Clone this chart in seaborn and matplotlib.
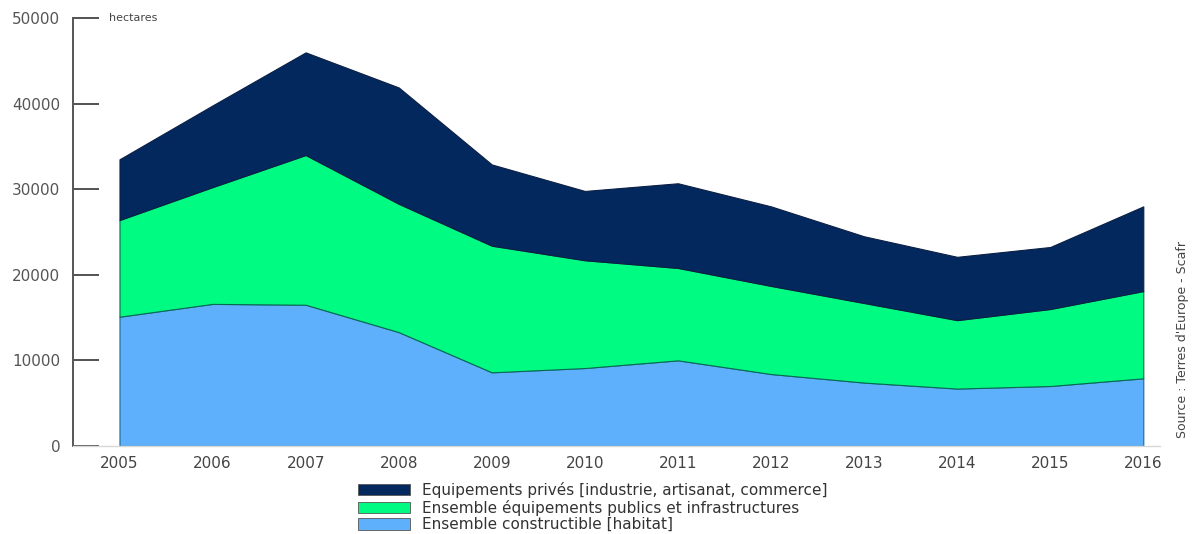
import matplotlib
matplotlib.use('Agg')
import matplotlib.pyplot as plt
from matplotlib.patches import Patch
import numpy as np
import pandas as pd
import seaborn as sns

# values (hectares)
years = [2005, 2006, 2007, 2008, 2009, 2010, 2011, 2012, 2013, 2014, 2015, 2016]
habitat = [15100, 16600, 16500, 13300, 8600, 9100, 10000, 8400, 7400, 6700, 7000, 7900]
publics = [11300, 13650, 17500, 15000, 14800, 12600, 10800, 10300, 9300, 8000, 9000, 10200]
prives = [7100, 9550, 12000, 13600, 9500, 8100, 9900, 9300, 7800, 7400, 7250, 9900]

labels = ['Equipements privés [industrie, artisanat, commerce]',
          'Ensemble équipements publics et infrastructures',
          'Ensemble constructible [habitat]']
colors = ['#03285e', '#00fb82', '#5eb0fd']
yticks = [0, 10000, 20000, 30000, 40000, 50000]

sns.set_theme(style='white')
plt.rcParams['font.family'] = ['DejaVu Sans']

df = pd.DataFrame({'year': years, 'habitat': habitat,
                   'publics': publics, 'prives': prives})

fig = plt.figure(figsize=(11.92, 5.34), dpi=100)
ax = fig.add_axes([0.0612, 0.165, 0.912, 0.801])

polys = ax.stackplot(df.year, df.habitat, df.publics, df.prives,
                     colors=[colors[2], colors[1], colors[0]])
edge = ['#1a6a8a', '#0a6a50', '#0a1f44']
for p, e in zip(polys, edge):
    p.set_edgecolor(e)
    p.set_linewidth(0.8)

ax.set_xlim(2004.5, 2016.18)
ax.set_ylim(0, 50000)
ax.set_xticks(years)
ax.set_xticklabels([str(y) for y in years])
ax.set_yticks(yticks)
ax.set_yticklabels([str(v) for v in yticks])

for s in ['top', 'right']:
    ax.spines[s].set_visible(False)
ax.spines['left'].set_color('#555555')
ax.spines['left'].set_linewidth(1.4)
ax.spines['bottom'].set_color('#d8d8d8')
ax.spines['bottom'].set_linewidth(1.0)

ax.tick_params(axis='y', left=True, direction='in', length=19, width=1.3,
               color='#444444', labelsize=11, labelcolor='#555555', pad=9)
ax.tick_params(axis='x', bottom=False, length=0, labelsize=11,
               labelcolor='#444444', pad=7)

ax.text(0.033, 1.0, 'hectares', transform=ax.transAxes, fontsize=8,
        color='#444444', va='center', ha='left')

fig.text(0.992, 0.365, "Source : Terres d'Europe - Scafr", rotation=90,
         fontsize=9, color='#444444', ha='center', va='center',
         family=['Liberation Sans Narrow', 'DejaVu Sans'])

handles = [Patch(facecolor=c, edgecolor='#555555', linewidth=0.6) for c in colors]
fig.legend(handles, labels, loc='upper left', bbox_to_anchor=(0.300, 0.097),
           frameon=False, fontsize=11, handlelength=3.4, handleheight=0.75,
           labelspacing=0.1, handletextpad=0.8, borderpad=0, borderaxespad=0)
for t in fig.legends[0].get_texts():
    t.set_color('#333333')

plt.savefig('out.png', dpi=100)
